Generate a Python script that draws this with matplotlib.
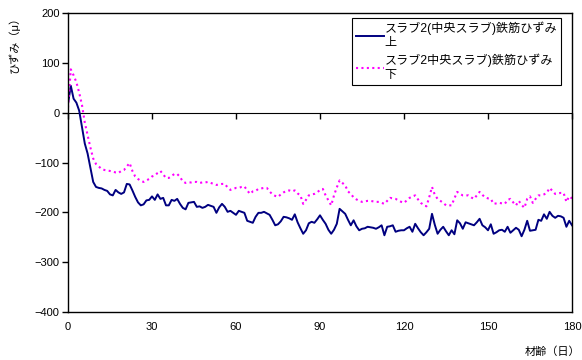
import matplotlib
matplotlib.use("Agg")
import matplotlib.pyplot as plt
import numpy as np

plt.rcParams["font.family"] = ["Liberation Sans", "Noto Sans CJK JP", "DejaVu Sans"]
plt.rcParams["font.size"] = 8

NAVY = "#000080"
MAGENTA = "#ff00ff"

days = np.arange(0, 181)

strain_top = [
    18, 54, 28, 20, 4, -29, -62, -82, -110, -139,
    -149, -151, -152, -155, -157, -164, -166, -155, -160, -163,
    -160, -143, -144, -156, -169, -180, -186, -184, -176, -175,
    -168, -175, -164, -173, -171, -186, -186, -175, -177, -173,
    -183, -191, -194, -181, -180, -179, -189, -188, -191, -189,
    -185, -187, -189, -201, -190, -183, -189, -199, -197, -201,
    -205, -197, -199, -201, -217, -219, -221, -209, -201, -201,
    -199, -202, -205, -215, -226, -224, -218, -209, -210, -212,
    -215, -204, -220, -232, -243, -236, -222, -219, -221, -214,
    -206, -215, -223, -235, -243, -235, -223, -193, -198, -203,
    -215, -226, -216, -228, -236, -233, -232, -229, -230, -231,
    -233, -230, -226, -246, -229, -228, -226, -239, -237, -236,
    -236, -232, -229, -239, -223, -232, -240, -246, -240, -233,
    -203, -225, -243, -235, -229, -238, -246, -236, -244, -216,
    -222, -233, -220, -222, -224, -226, -220, -213, -226, -230,
    -236, -224, -243, -240, -236, -235, -239, -229, -241, -236,
    -231, -235, -248, -235, -217, -237, -236, -235, -215, -217,
    -204, -213, -199, -207, -211, -207, -208, -211, -229, -217,
    -226,
]

strain_bottom = [
    10, 87, 75, 61, 40, 15, -20, -45, -70, -92,
    -103, -108, -113, -115, -116, -117, -118, -120, -121, -117,
    -115, -108, -101, -117, -128, -133, -137, -139, -136, -133,
    -128, -126, -121, -117, -124, -131, -131, -127, -123, -123,
    -129, -138, -141, -140, -140, -139, -139, -141, -140, -140,
    -139, -141, -143, -145, -144, -143, -143, -150, -155, -153,
    -151, -151, -149, -148, -156, -163, -158, -157, -153, -152,
    -151, -151, -158, -164, -167, -169, -164, -160, -157, -156,
    -158, -156, -162, -166, -183, -175, -166, -164, -163, -160,
    -155, -153, -166, -176, -186, -166, -150, -136, -141, -146,
    -158, -163, -170, -174, -177, -179, -178, -177, -177, -178,
    -179, -179, -181, -183, -177, -171, -172, -173, -176, -179,
    -181, -176, -171, -168, -166, -174, -181, -185, -188, -170,
    -149, -165, -173, -177, -181, -186, -186, -186, -172, -159,
    -163, -166, -166, -166, -170, -173, -166, -159, -165, -170,
    -172, -173, -183, -182, -181, -182, -183, -175, -173, -180,
    -186, -177, -185, -191, -173, -168, -181, -173, -166, -166,
    -164, -161, -151, -157, -163, -162, -161, -161, -179, -168,
    -172,
]

labels = ["スラブ2(中央スラブ)鉄筋ひずみ\n上", "スラブ2中央スラブ)鉄筋ひずみ\n下"]
x_ticks = [0, 30, 60, 90, 120, 150, 180]
y_ticks = [200, 100, 0, -100, -200, -300, -400]

fig = plt.figure(figsize=(5.82, 3.6), dpi=100)
ax = fig.add_axes([68 / 582, 1 - 312 / 360, (572 - 68) / 582, (312 - 13) / 360])

ax.plot(days, strain_top, color=NAVY, linewidth=1.4, label=labels[0])
ax.plot(days, strain_bottom, color=MAGENTA, linewidth=1.5,
        linestyle=(0, (1.0, 1.6)), label=labels[1])

ax.set_xlim(0, 180)
ax.set_ylim(-400, 200)
ax.set_xticks(x_ticks)
ax.set_yticks(y_ticks)
ax.tick_params(axis="x", length=0, pad=7, labelsize=8)
ax.tick_params(axis="y", direction="out", length=4, width=1, pad=2, labelsize=8)
for s in ax.spines.values():
    s.set_linewidth(1.0)
    s.set_color("black")

# category axis crossing at zero, ticks pointing up
sec = ax.secondary_xaxis(400 / 600)
sec.set_xticks(x_ticks)
sec.xaxis.set_ticklabels([])
sec.tick_params(axis="x", direction="in", length=4, width=1)
sec.spines["bottom"].set_linewidth(1.0)

leg = ax.legend(loc="upper right", bbox_to_anchor=(561 / 582, 1 - 18 / 360),
                bbox_transform=fig.transFigure, fancybox=False, framealpha=1,
                edgecolor="black", fontsize=8.7, handlelength=2.3,
                handletextpad=0.1, borderpad=0.3, labelspacing=0.4,
                borderaxespad=0)
leg.get_frame().set_linewidth(0.8)

fig.text(14 / 582, 1 - 42 / 360, "ひずみ（μ）", rotation=90, ha="center", va="center", fontsize=8)
fig.text(580 / 582, 1 - 352 / 360, "材齢（日）", ha="right", va="center", fontsize=8)

fig.savefig("out.png", dpi=100)
